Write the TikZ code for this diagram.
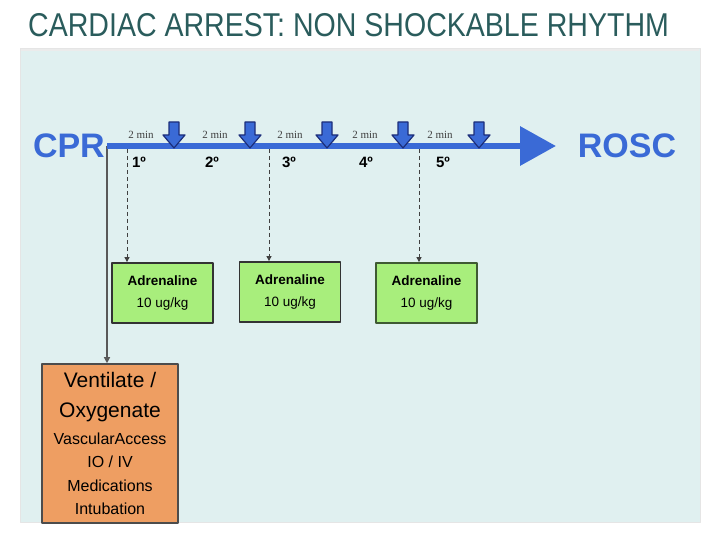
\documentclass[tikz,border=0pt]{standalone}
\usepackage{fontspec}
\setmainfont{Liberation Sans}
\newfontfamily\minfont{Liberation Serif}
\usetikzlibrary{arrows.meta}
\definecolor{panelcyan}{HTML}{E0F0F0}
\definecolor{titleteal}{HTML}{2A5C5C}
\definecolor{cprblue}{HTML}{3A6AD6}
\definecolor{dropnavy}{HTML}{1C2E7A}
\definecolor{drugfill}{HTML}{A8EE7C}
\definecolor{drugedge}{HTML}{3F5A33}
\definecolor{ventorange}{HTML}{EE9E62}

\begin{document}
\begin{tikzpicture}[
  x=1pt,
  y=-1pt,
  line join=round,
  panel/.style={fill=panelcyan,draw=black!10,line width=0.8pt},
  bigword/.style={font=\fontsize{34}{36}\selectfont\bfseries,text=cprblue,inner sep=0pt},
  timeline/.style={draw=cprblue,line width=6.5pt,-{Triangle[length=36pt,width=38pt]}},
  minlabel/.style={font=\minfont\fontsize{11}{12}\selectfont,text=black!75,inner sep=0pt},
  roundlabel/.style={font=\fontsize{15}{17}\selectfont\bfseries,inner sep=0pt},
  dashlink/.style={draw=black!75,line width=1pt,dash pattern=on 4pt off 3pt,-{Triangle[length=5pt,width=5pt]}},
  solidlink/.style={draw=black!65,line width=1.3pt,-{Triangle[length=6pt,width=6pt]}},
  drugbox/.style={draw=black!80,line width=1.8pt,fill=drugfill,minimum width=101pt,minimum height=60pt,
    align=center,inner sep=0pt,font=\fontsize{13.5}{22}\selectfont},
  ventbox/.style={draw=black!70,line width=1.6pt,fill=ventorange,minimum width=136pt,minimum height=159pt,
    align=center,inner sep=0pt,font=\fontsize{16}{23.5}\selectfont}
]
  \newcommand{\dropmark}[1]{%
    \filldraw[fill=cprblue,draw=dropnavy,line width=1.2pt]
      (#1-5,122) -- (#1+5,122) -- (#1+5,135) -- (#1+11,135) -- (#1,148)
      -- (#1-11,135) -- (#1-5,135) -- cycle;
  }
  \useasboundingbox (0,0) rectangle (720,540);

  % Title and the pale panel behind the chart.
  \node[anchor=west,inner sep=0pt,text=titleteal] (title) at (28,25)
    {\scalebox{0.865}[1]{\fontsize{33}{36}\selectfont CARDIAC ARREST: NON SHOCKABLE RHYTHM}};
  \path[panel] (20,48) rectangle (700,522);
  \draw[black!8,line width=1.5pt] (21,50) -- (699,50);

  % End words and the two ends of the time line.
  \node[bigword,anchor=east] (cpr) at (105,146) {CPR};
  \node[bigword] (rosc) at (627,146) {ROSC};
  \coordinate (start) at (107,146);
  \coordinate (tip) at (556,146);

  % Boxes below the line.
  \node[drugbox] (adr1) at (162.5,293) {\textbf{Adrenaline}\\10 ug/kg};
  \node[drugbox] (adr2) at (290,292) {\textbf{Adrenaline}\\10 ug/kg};
  \node[drugbox,draw=drugedge] (adr3) at (426.5,293) {\textbf{Adrenaline}\\10 ug/kg};
  \node[ventbox] (vent) at (110,443.5)
    {\fontsize{21}{30}\selectfont Ventilate /\\[6.5pt]
     \fontsize{21}{30}\selectfont Oxygenate\\[3pt]
     VascularAccess\\
     IO / IV\\
     Medications\\
     Intubation};

  % Links from the line down to the boxes.
  \coordinate (d1) at (127,149);
  \coordinate (d2) at (269,149);
  \coordinate (d3) at (419,149);
  \draw[solidlink] (start) -- (start |- vent.north);
  \draw[dashlink] (d1) -- (d1 |- adr1.north);
  \draw[dashlink] (d2) -- (d2 |- adr2.north);
  \draw[dashlink] (d3) -- (d3 |- adr3.north);

  % The time line with its markers and labels.
  \draw[timeline] (start) -- (tip);
  \foreach \x in {174,250,327,403,479} {
    \dropmark{\x}
  }
  \foreach \x/\n in {141/1,215/2,290/3,365/4,440/5} {
    \node[minlabel] (min\n) at (\x,135) {2 min};
  }
  \foreach \x/\n in {139/1,212/2,289/3,366/4,443/5} {
    \node[roundlabel] (round\n) at (\x,162) {\n º};
  }
\end{tikzpicture}
\end{document}
